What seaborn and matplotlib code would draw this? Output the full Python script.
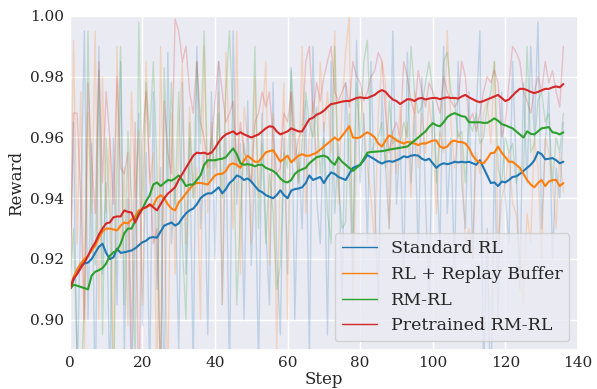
import numpy as np
import pandas as pd
import matplotlib
matplotlib.use("Agg")
import matplotlib.pyplot as plt
from matplotlib.lines import Line2D
import seaborn as sns

methods = ["Standard RL", "RL + Replay Buffer", "RM-RL", "Pretrained RM-RL"]
colors = ["#1f77b4", "#ff7f0e", "#2ca02c", "#d62728"]

# smoothed curves, steps 0..136
smooth_std = [
    .910, .913, .916, .918, .9185, .9188, .920, .922, .924, .925,
    .922, .920, .9205, .9234, .922, .9222, .9225, .9228, .9235, .9245,
    .9255, .926, .927, .9272, .927, .929, .931, .9315, .932, .931,
    .9317, .9335, .935, .936, .9366, .938, .940, .941, .9416, .9416,
    .9425, .9436, .9416, .943, .945, .946, .9475, .947, .946, .9465,
    .9455, .944, .9426, .942, .941, .9405, .940, .941, .9426, .941,
    .940, .9425, .943, .9432, .9436, .945, .9475, .946, .9465, .947,
    .945, .947, .9485, .948, .947, .9465, .946, .948, .950, .9505,
    .951, .9525, .9542, .9535, .9528, .952, .9514, .952, .9522, .952,
    .9525, .953, .9538, .9535, .954, .9542, .954, .953, .9525, .953,
    .9515, .950, .951, .9515, .9512, .9515, .952, .9518, .952, .9518,
    .952, .9515, .951, .9525, .950, .9475, .945, .9452, .944, .9455,
    .9452, .946, .947, .9472, .948, .949, .950, .951, .9525, .9552,
    .9545, .9528, .953, .9532, .9525, .9515, .952,
]
smooth_buf = [
    .910, .914, .9165, .9185, .920, .921, .9228, .9244, .927, .929,
    .930, .930, .9297, .9294, .931, .932, .9317, .933, .934, .936,
    .9365, .937, .9376, .9376, .940, .941, .940, .938, .9366, .936,
    .9386, .940, .9416, .943, .9445, .945, .945, .9448, .9445, .946,
    .9475, .948, .948, .949, .951, .9515, .951, .950, .9525, .954,
    .953, .952, .952, .9535, .9551, .9555, .9558, .954, .952, .953,
    .954, .9518, .953, .954, .9545, .954, .954, .9545, .955, .956,
    .957, .958, .959, .960, .959, .9605, .962, .9637, .960, .9598,
    .960, .961, .9617, .961, .960, .958, .957, .959, .9607, .960,
    .959, .9585, .958, .9585, .9584, .958, .9575, .958, .958, .9585,
    .959, .959, .957, .9565, .957, .9585, .959, .9585, .9585, .958,
    .9565, .954, .9525, .9518, .9515, .953, .9548, .955, .957, .955,
    .9535, .952, .952, .951, .950, .948, .946, .9445, .9436, .945,
    .946, .944, .9455, .946, .946, .944, .945,
]
smooth_rm = [
    .910, .9115, .9112, .9108, .9104, .910, .9145, .9158, .9163, .917,
    .9185, .921, .9222, .9228, .925, .9285, .930, .930, .9325, .935,
    .9365, .939, .941, .9445, .9452, .944, .945, .946, .9458, .9465,
    .9475, .946, .944, .9445, .9445, .946, .9475, .951, .9525, .9525,
    .9525, .9528, .953, .9535, .955, .9564, .9545, .9515, .951, .9512,
    .951, .9505, .951, .951, .950, .9495, .949, .948, .9465, .9455,
    .9452, .946, .948, .949, .9495, .950, .9515, .9525, .9535, .9538,
    .954, .9535, .952, .951, .9535, .952, .951, .950, .949, .950,
    .951, .953, .955, .9552, .9553, .9554, .9555, .9557, .956, .9562,
    .9564, .9566, .9568, .957, .958, .959, .960, .961, .962, .9635,
    .9647, .964, .9637, .965, .9667, .9675, .968, .9675, .967, .9668,
    .965, .965, .965, .965, .9648, .9648, .9655, .9663, .9655, .9644,
    .964, .9635, .963, .962, .961, .960, .962, .9612, .961, .962,
    .963, .9632, .9634, .9617, .9615, .961, .9617,
]
smooth_pre = [
    .910, .9135, .915, .917, .9188, .921, .9235, .9254, .928, .930,
    .9317, .932, .9337, .934, .934, .936, .9355, .9353, .932, .9345,
    .9366, .937, .938, .937, .936, .938, .940, .9415, .9425, .9436,
    .946, .948, .950, .952, .954, .955, .9548, .955, .9545, .955,
    .9565, .9585, .960, .961, .9615, .962, .961, .9617, .961, .9605,
    .960, .9605, .961, .962, .963, .9637, .9635, .962, .961, .9615,
    .962, .963, .9625, .962, .962, .964, .966, .9665, .9675, .968,
    .9688, .970, .971, .9712, .9715, .9718, .972, .972, .9725, .973,
    .9732, .973, .973, .9735, .974, .975, .9756, .975, .9736, .9725,
    .972, .971, .9718, .9726, .9725, .972, .9728, .973, .9725, .9728,
    .973, .973, .9726, .973, .9732, .973, .973, .9728, .9735, .974,
    .9732, .9726, .972, .9716, .972, .9725, .973, .9735, .974, .973,
    .972, .9725, .9738, .975, .976, .976, .9756, .975, .9746, .975,
    .9755, .976, .976, .9765, .9768, .9765, .9776,
]

# raw per-step rewards (thousandths), faint lines behind the curves
raw_std = [
    910, 965, 880, 935, 995, 900, 958, 870, 990, 915,
    945, 878, 960, 905, 985, 890, 940, 875, 930, 968,
    898, 955, 880, 975, 910, 950, 872, 988, 925, 945,
    890, 978, 915, 960, 884, 990, 930, 955, 895, 975,
    920, 985, 905, 962, 880, 995, 938, 958, 900, 972,
    918, 950, 885, 968, 930, 905, 978, 922, 895, 960,
    915, 983, 900, 955, 930, 972, 888, 990, 940, 925,
    965, 895, 985, 935, 958, 905, 978, 948, 915, 992,
    945, 968, 925, 985, 940, 905, 975, 950, 930, 995,
    938, 960, 915, 988, 945, 968, 920, 980, 940, 905,
    972, 950, 925, 990, 935, 960, 915, 985, 945, 930,
    975, 920, 968, 995, 880, 930, 870, 955, 900, 975,
    940, 925, 985, 950, 910, 978, 945, 990, 960, 998,
    930, 958, 975, 920, 950, 940, 965,
]
raw_buf = [
    910, 992, 925, 975, 890, 968, 935, 995, 900, 980,
    935, 960, 885, 990, 920, 950, 898, 975, 940, 962,
    905, 985, 945, 955, 875, 990, 930, 880, 968, 915,
    960, 985, 925, 970, 940, 950, 900, 990, 935, 965,
    945, 975, 905, 988, 955, 930, 995, 915, 970, 960,
    925, 980, 940, 965, 985, 918, 968, 890, 950, 978,
    900, 975, 958, 945, 990, 935, 960, 972, 948, 985,
    962, 975, 955, 995, 938, 970, 988, 1000, 905, 958,
    975, 965, 950, 940, 925, 968, 985, 978, 930, 962,
    948, 970, 955, 965, 940, 975, 950, 968, 955, 972,
    960, 935, 962, 955, 995, 965, 950, 962, 958, 925,
    930, 920, 955, 948, 968, 972, 958, 985, 925, 940,
    945, 955, 938, 935, 920, 905, 935, 925, 960, 950,
    920, 960, 955, 945, 930, 955, 942,
]
raw_rm = [
    910, 930, 890, 878, 905, 995, 925, 918, 982, 895,
    960, 935, 872, 948, 990, 905, 962, 940, 885, 998,
    935, 978, 960, 985, 950, 875, 983, 945, 978, 938,
    975, 925, 900, 965, 940, 985, 958, 995, 945, 960,
    950, 968, 940, 975, 995, 965, 905, 935, 958, 948,
    945, 990, 930, 958, 925, 948, 935, 910, 918, 955,
    950, 982, 962, 945, 958, 975, 965, 960, 970, 948,
    960, 935, 925, 990, 945, 930, 932, 968, 925, 978,
    960, 985, 992, 955, 958, 960, 965, 950, 972, 958,
    960, 958, 965, 960, 990, 975, 968, 970, 978, 985,
    975, 945, 962, 985, 988, 975, 972, 960, 962, 945,
    965, 962, 968, 958, 960, 970, 975, 985, 950, 945,
    960, 955, 958, 945, 950, 948, 990, 955, 958, 972,
    975, 965, 968, 945, 960, 955, 968,
]
raw_pre = [
    910, 968, 968, 940, 900, 978, 952, 935, 985, 945,
    975, 960, 938, 980, 950, 948, 955, 890, 965, 870,
    958, 975, 948, 925, 930, 880, 972, 955, 948, 999,
    995, 985, 990, 975, 968, 985, 965, 960, 950, 958,
    972, 985, 975, 965, 968, 972, 950, 965, 955, 952,
    945, 965, 968, 975, 970, 975, 960, 948, 950, 968,
    965, 975, 952, 960, 962, 985, 990, 968, 978, 972,
    980, 985, 990, 975, 972, 975, 978, 970, 985, 980,
    978, 972, 975, 980, 982, 988, 985, 968, 955, 962,
    965, 960, 985, 980, 972, 968, 982, 975, 970, 978,
    975, 972, 968, 980, 975, 972, 970, 972, 985, 980,
    965, 968, 962, 968, 975, 980, 978, 982, 978, 960,
    965, 978, 990, 988, 985, 975, 972, 968, 975, 980,
    975, 985, 978, 982, 975, 970, 990,
]

smooth = [smooth_std, smooth_buf, smooth_rm, smooth_pre]
raw = [raw_std, raw_buf, raw_rm, raw_pre]

frames = []
for name, s, r in zip(methods, smooth, raw):
    frames.append(pd.DataFrame({
        "Step": np.arange(len(s)),
        "Reward": s,
        "Raw": np.array(r) / 1000.0,
        "Method": name,
    }))
df = pd.concat(frames, ignore_index=True)

sns.set_theme(style="darkgrid")
plt.rcParams["font.family"] = ["DejaVu Serif"]

fig, ax = plt.subplots(figsize=(5.97, 3.89), dpi=100)
palette = dict(zip(methods, colors))

sns.lineplot(data=df, x="Step", y="Raw", hue="Method", palette=palette,
             alpha=0.22, linewidth=1.0, legend=False, ax=ax)
sns.lineplot(data=df, x="Step", y="Reward", hue="Method", palette=palette,
             linewidth=1.5, legend=False, ax=ax)

ax.set_xlim(0, 140)
ax.set_ylim(0.89, 1.0)
ax.set_xticks(range(0, 141, 20))
ax.set_yticks([0.90, 0.92, 0.94, 0.96, 0.98, 1.00])
ax.set_xlabel("Step", fontsize=12, labelpad=1)
ax.set_ylabel("Reward", fontsize=12, labelpad=4)
ax.tick_params(labelsize=11, length=0, pad=4)

handles = [Line2D([0], [0], color=c, lw=1.0) for c in colors]
ax.legend(handles, methods, loc="lower right", fontsize=12.5,
          framealpha=0.8, borderaxespad=0.5)

plt.subplots_adjust(left=0.117, right=0.968, top=0.959, bottom=0.1)
plt.savefig("out.png", dpi=100)
